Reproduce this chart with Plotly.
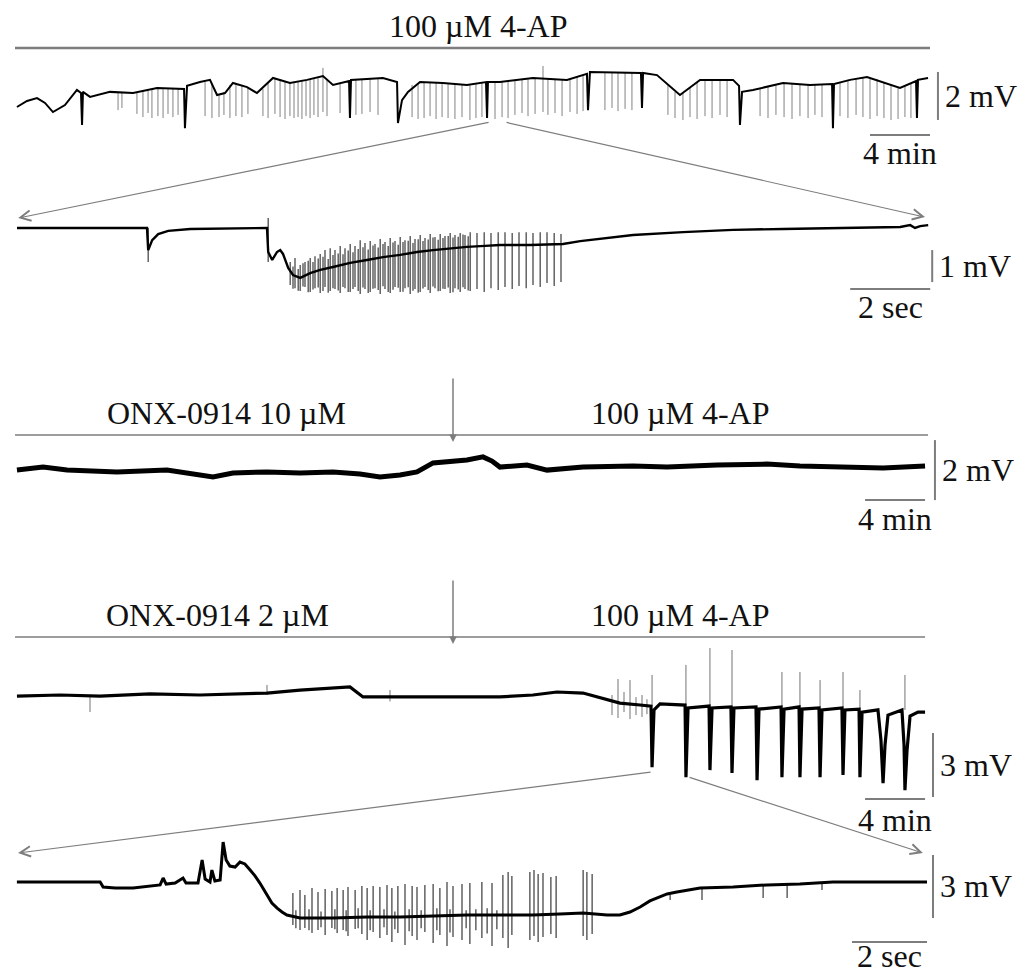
import plotly.graph_objects as go

W, H = 1030, 975

# ======================= DATA =======================
# Trace 1 : 100 uM 4-AP, slow time base (time in min, potential in mV)
T1_T = [0.13, 0.8, 1.47, 2.0, 2.53, 3.33, 4.13, 4.4, 4.47, 4.53,
        5.0, 6.33, 7.87, 9.47, 11.27, 11.33, 11.47, 12.33, 13.0, 13.47,
        14.0, 14.53, 15.47, 16.13, 17.2, 18.33, 19.47, 20.53, 21.2, 22.27,
        22.33, 22.4, 24.53, 25.47, 25.53, 25.8, 26.2, 27.0, 28.53, 30.13,
        31.4, 31.47, 31.53, 32.33, 34.53, 36.8, 38.13, 38.2, 38.33, 40.33,
        41.73, 41.8, 41.87, 42.8, 44.33, 45.67, 47.87, 48.27, 48.33, 48.47,
        49.2, 51.2, 53.0, 54.47, 54.53, 54.6, 55.67, 56.8, 57.87, 59.0,
        60.07, 60.13, 60.2, 60.87]
T1_V = [-0.50, -0.25, -0.13, -0.33, -0.71, -0.42, 0.21, 0.08, -1.25, 0.13,
        -0.08, 0.13, 0.08, 0.29, 0.25, -1.38, 0.38, 0.54, 0.63, 0.0,
        0.08, 0.5, 0.33, 0.08, 0.71, 0.5, 0.63, 0.79, 0.42, 0.58,
        -0.96, 0.63, 0.71, 0.54, -1.17, -0.21, 0.13, 0.54, 0.5, 0.42,
        0.54, -0.96, 0.54, 0.54, 0.71, 0.63, 0.88, -0.63, 0.96, 0.92,
        0.92, -0.54, 0.92, 0.83, 0.0, 0.63, 0.63, 0.38, -1.25, 0.13,
        0.21, 0.5, 0.42, 0.46, -1.38, 0.46, 0.63, 0.75, 0.54, 0.29,
        0.58, -0.96, 0.63, 0.71]
T1_SPK_T = [6.87, 7.13, 8.13, 8.53, 8.87, 9.13, 9.53, 9.87, 10.2, 10.53, 10.87,
            12.67, 13.13, 13.6, 13.93, 14.33, 14.73, 15.13, 15.53,
            16.53, 16.87, 17.33, 17.67, 18.0, 18.33, 18.6, 18.87, 19.13, 19.4, 19.67, 19.93, 20.2, 20.53, 20.8,
            21.67, 22.73, 23.13, 23.67, 24.2,
            26.47, 26.87, 27.27, 27.67, 28.07, 28.47, 28.87, 29.33, 29.8, 30.33, 30.73, 31.13, 32.0, 32.47, 32.87,
            33.33, 33.8, 34.2, 34.67, 35.2, 35.53, 36.0, 36.47, 37.0, 37.47, 37.87,
            39.33, 39.8, 40.2, 40.67, 41.13,
            43.53, 44.0, 44.53, 45.0, 45.47, 46.0, 46.47, 47.0, 47.47,
            49.67, 50.2, 50.73, 51.27, 51.8, 52.33, 52.87, 53.33, 53.8,
            55.0, 55.53, 56.07, 56.53, 57.0, 57.47, 57.93, 58.4, 58.87, 59.33, 59.73]
T1_SPK_TOP = [0.13, 0.13, 0.13, 0.17, 0.17, 0.21, 0.25, 0.25, 0.25, 0.25, 0.25,
              0.54, 0.46, 0.04, 0.13, 0.42, 0.46, 0.42, 0.33,
              0.25, 0.54, 0.71, 0.63, 0.54, 0.5, 0.54, 0.58, 0.63, 0.63, 0.67, 0.71, 0.75, 1.13, 0.63,
              0.5, 0.63, 0.67, 0.67, 0.71,
              0.42, 0.5, 0.54, 0.54, 0.5, 0.5, 0.5, 0.46, 0.42, 0.46, 0.5, 0.54, 0.54, 0.54, 0.58,
              0.63, 0.67, 0.71, 0.71, 1.21, 0.67, 0.63, 0.63, 0.71, 0.75, 0.79,
              0.92, 0.92, 0.92, 0.92, 0.92,
              0.46, 0.13, 0.08, 0.29, 0.54, 0.63, 0.63, 0.63, 0.63,
              0.25, 0.33, 0.42, 0.5, 0.46, 0.46, 0.42, 0.42, 0.42,
              0.54, 0.63, 0.67, 0.71, 0.75, 0.67, 0.54, 0.42, 0.29, 0.38, 0.5]
T1_SPK_BOT = [-0.63, -0.54, -0.79, -0.92, -0.75, -0.96, -0.88, -0.96, -0.79, -0.92, -0.83,
              -0.88, -0.96, -0.92, -0.83, -0.96, -0.88, -0.92, -0.79,
              -0.88, -0.96, -0.79, -0.92, -1.0, -0.88, -0.96, -0.92, -1.0, -0.88, -0.96, -0.83, -0.92, -0.71, -0.88,
              -0.75, -0.83, -0.79, -0.71, -0.83,
              -0.92, -1.0, -0.96, -0.88, -1.0, -0.92, -0.96, -1.0, -0.92, -1.04, -0.96, -0.92, -1.0, -0.92, -0.96,
              -0.83, -0.75, -0.88, -0.79, -0.71, -0.83, -0.75, -0.88, -0.71, -0.79, -0.67,
              -0.63, -0.54, -0.67, -0.58, -0.63,
              -0.83, -0.96, -1.04, -0.92, -1.0, -0.88, -0.96, -0.83, -0.92,
              -0.88, -0.96, -0.83, -0.92, -1.0, -0.88, -0.96, -0.83, -0.92,
              -0.88, -0.96, -0.83, -0.92, -1.0, -0.88, -0.96, -1.04, -1.0, -0.92, -0.96]

# Trace 2 : expanded event from trace 1 (time in s, mV)
T2_T = [0.05, 3.3, 3.33, 3.43, 3.58, 3.83, 4.38, 6.3, 6.33, 6.43,
        6.55, 6.63, 6.7, 6.83, 6.95, 7.13, 7.38, 7.63, 7.95, 8.38,
        8.8, 9.2, 9.63, 10.05, 10.45, 10.88, 11.3, 11.75, 12.13, 12.88,
        13.7, 14.13, 14.63, 15.45, 16.7, 17.95, 19.2, 20.45, 22.13, 22.38,
        22.5, 22.63, 22.83]
T2_V = [0, 0, -0.69, -0.38, -0.19, -0.09, -0.03, 0, -0.75, -1.0,
        -0.75, -0.69, -0.81, -1.25, -1.47, -1.56, -1.41, -1.31, -1.22, -1.09,
        -1.0, -0.91, -0.84, -0.75, -0.69, -0.63, -0.59, -0.56, -0.53, -0.53,
        -0.5, -0.41, -0.34, -0.22, -0.13, -0.06, -0.03, 0, 0.03, 0.09,
        0, 0.06, 0.09]
T2_SPK_T = [3.33, 6.33,
            6.88, 7.0, 7.13, 7.25, 7.38, 7.5, 7.63, 7.75, 7.88, 8.0,
            8.13, 8.25, 8.38, 8.5, 8.63, 8.75, 8.88, 9.0, 9.13, 9.25,
            9.38, 9.5, 9.63, 9.75, 9.88, 10.0, 10.13, 10.25, 10.38, 10.5,
            10.63, 10.75, 10.88, 11.0, 11.13, 11.25, 11.38,
            11.55, 11.73, 11.9, 12.08, 12.25, 12.43, 12.6, 12.78, 12.95, 13.13, 13.3, 13.48, 13.65,
            6.95, 7.08, 7.2, 7.33, 7.45, 7.58, 7.7, 7.83, 7.95, 8.08,
            8.2, 8.33, 8.45, 8.58, 8.7, 8.83, 8.95, 9.08, 9.2, 9.33,
            9.45, 9.58, 9.7, 9.83, 9.95, 10.08, 10.2, 10.33, 10.45, 10.58,
            10.7, 10.83, 10.95, 11.08, 11.2, 11.33]
T2_SPK_TOP = [0, 0.31,
              -1.06, -0.94, -1.16, -1.06, -0.94, -0.88, -0.81, -0.69, -0.63, -0.69,
              -0.56, -0.63, -0.5, -0.56, -0.38, -0.47, -0.41, -0.5, -0.34, -0.44,
              -0.31, -0.41, -0.28, -0.38, -0.25, -0.34, -0.22, -0.31, -0.19, -0.28,
              -0.19, -0.25, -0.16, -0.22, -0.16, -0.22, -0.13,
              -0.16, -0.13, -0.16, -0.13, -0.13, -0.16, -0.13, -0.13, -0.16, -0.13, -0.13, -0.16, -0.19,
              -1.2, -1.28, -1.1, -1.02, -1.06, -0.95, -0.9, -0.97, -0.84, -0.8,
              -0.82, -0.7, -0.76, -0.66, -0.6, -0.67, -0.55, -0.61, -0.5, -0.56,
              -0.45, -0.52, -0.44, -0.4, -0.47, -0.35, -0.41, -0.36, -0.3, -0.37,
              -0.31, -0.25, -0.3, -0.27, -0.2, -0.26]
T2_SPK_BOT = [-1.06, -1.06,
              -1.78, -1.88, -1.97, -1.84, -2.0, -1.88, -2.03, -1.84, -1.97, -1.91,
              -2.03, -1.88, -2.0, -1.84, -2.06, -1.91, -2.0, -1.88, -2.06, -1.91,
              -2.03, -1.84, -2.0, -1.88, -2.06, -1.91, -2.0, -1.84, -2.03, -1.88,
              -1.97, -1.91, -2.03, -1.88, -2.0, -1.91, -1.97,
              -1.91, -2.0, -1.88, -1.94, -1.84, -1.91, -1.81, -1.88, -1.78, -1.84, -1.72, -1.81, -1.69,
              -1.9, -1.96, -1.83, -2.01, -1.92, -1.86, -1.97, -2.02, -1.88, -1.95,
              -1.84, -2.0, -1.91, -1.97, -1.86, -2.03, -1.9, -1.94, -1.82, -2.0,
              -1.93, -1.87, -1.99, -1.85, -1.96, -2.02, -1.89, -1.94, -1.83, -1.98,
              -1.9, -1.86, -2.01, -1.92, -1.85, -1.95]

# Trace 3 : ONX-0914 10 uM then 100 uM 4-AP (min, mV)
T3_T = [0.13, 1.87, 3.47, 6.8, 10.13, 11.47, 13.2, 14.53, 16.8, 19.0,
        21.2, 23.0, 24.33, 25.67, 26.8, 27.87, 29.0, 30.13, 31.2, 31.8,
        32.33, 34.13, 35.47, 37.87, 41.2, 43.47, 46.8, 50.13, 52.33, 54.53,
        57.87, 60.67]
T3_V = [-0.07, 0.03, -0.07, -0.13, -0.07, -0.17, -0.3, -0.17, -0.13, -0.17,
        -0.13, -0.2, -0.3, -0.23, -0.13, 0.17, 0.23, 0.27, 0.37, 0.23,
        0.03, 0.1, -0.07, 0.03, 0.07, 0.03, 0.1, 0.13, 0.07, 0.03,
        0.0, 0.07]
T3_SPK_T = []
T3_SPK_TOP = []
T3_SPK_BOT = []

# Trace 4 : ONX-0914 2 uM then 100 uM 4-AP (min, mV)
T4_T = [0.13, 3.0, 5.67, 9.0, 12.33, 15.0, 16.8, 19.0, 21.2, 22.33,
        23.2, 25.67, 29.0, 32.33, 34.53, 36.13, 37.87, 39.0, 40.33, 41.67,
        42.4, 42.47, 42.6, 43.0, 44.67, 44.73, 44.87, 46.27, 46.33, 46.47,
        47.73, 47.8, 47.93, 49.4, 49.47, 49.6, 51.07, 51.13, 51.27, 52.27,
        52.33, 52.47, 53.6, 53.67, 53.8, 55.13, 55.2, 55.33, 56.27, 56.33,
        56.47, 57.53, 57.73, 57.87, 58.0, 58.2, 59.13, 59.27, 59.33, 59.47,
        59.67, 60.2, 60.67]
T4_V = [-0.05, 0, -0.05, 0.05, 0, 0.05, 0.09, 0.23, 0.33, 0.38,
        -0.09, -0.09, -0.09, -0.09, 0, 0.14, 0.09, -0.14, -0.38, -0.47,
        -0.52, -3.38, -0.7, -0.42, -0.47, -3.85, -0.61, -0.52, -3.52, -0.61,
        -0.56, -3.66, -0.61, -0.56, -3.99, -0.66, -0.56, -3.85, -0.66, -0.56,
        -3.85, -0.66, -0.61, -3.85, -0.7, -0.61, -3.75, -0.7, -0.66, -3.85,
        -0.8, -0.7, -2.11, -4.13, -2.35, -0.94, -0.7, -2.35, -4.46, -2.58,
        -0.99, -0.8, -0.8]
T4_SPK_T = [5.0, 16.8, 25.0, 39.8, 40.2, 40.6, 41.0, 41.4, 41.8, 42.13,
            42.47, 44.73, 46.33, 47.8, 51.13, 52.33, 53.67, 55.2, 56.33, 59.33]
T4_SPK_TOP = [-0.05, 0.47, 0.23, 0.0, 0.75, 0.14, 0.7, -0.1, 0.0, -0.2,
              0.94, 1.41, 2.2, 2.11, 1.08, 1.08, 0.7, 1.08, 0.23, 0.94]
T4_SPK_BOT = [-0.8, 0.0, -0.3, -0.94, -1.08, -0.8, -1.13, -0.94, -1.03, -0.9,
              -0.52, -0.47, -0.52, -0.56, -0.56, -0.56, -0.61, -0.61, -0.66, -0.7]

# Trace 5 : expanded event from trace 4 (s, mV)
T5_T = [0.05, 2.27, 2.35, 2.67, 3.15, 3.6, 3.87, 3.95, 4.03, 4.27,
        4.48, 4.56, 4.88, 4.99, 5.07, 5.2, 5.25, 5.33, 5.47, 5.55,
        5.63, 5.73, 5.87, 6.0, 6.13, 6.27, 6.4, 6.53, 6.72, 6.85,
        6.99, 7.12, 7.25, 7.6, 8.48, 9.39, 10.27, 11.15, 12.05, 12.93,
        13.81, 14.53, 15.15, 15.79, 16.13, 16.4, 16.67, 16.93, 17.12, 17.39,
        17.65, 18.0, 18.27, 19.15, 20.05, 20.93, 21.81, 23.07, 24.32]
T5_V = [0, 0, -0.24, -0.29, -0.29, -0.19, -0.14, 0.19, -0.1, -0.05,
        0.19, -0.05, -0.05, 1.05, 0.14, 0, 0.57, 0.05, 0.1, 1.9,
        1.05, 0.76, 0.71, 0.95, 0.86, 0.57, 0.29, -0.05, -0.62, -1.0,
        -1.24, -1.43, -1.57, -1.71, -1.71, -1.67, -1.67, -1.62, -1.57, -1.57,
        -1.57, -1.52, -1.48, -1.57, -1.57, -1.43, -1.19, -0.9, -0.76, -0.57,
        -0.48, -0.38, -0.29, -0.24, -0.14, -0.1, 0, 0, 0]
T5_SPK_T = [7.41, 7.6, 7.73, 7.92, 8.08, 8.27, 8.45, 8.59, 8.75, 8.88,
            9.07, 9.25, 9.39, 9.55, 9.73, 9.92, 10.05, 10.21, 10.4, 10.59,
            10.72, 10.93, 11.15, 11.33, 11.52, 11.68, 11.92, 12.13, 12.45, 12.72,
            13.01, 13.15, 13.25, 13.73, 13.84, 13.95, 14.08, 14.29, 14.43, 15.15,
            15.25, 15.39, 17.47, 18.32, 19.95, 20.59, 21.52,
            7.49, 7.84, 8.16, 8.53, 8.83, 9.15, 9.47, 9.84, 10.13, 10.51,
            10.83, 11.25, 11.6, 12.03, 12.29, 12.59, 12.85]
T5_SPK_TOP = [-0.52, -0.38, -0.62, -0.29, -0.48, -0.33, -0.43, -0.29, -0.38, -0.24,
              -0.38, -0.19, -0.29, -0.19, -0.24, -0.14, -0.29, -0.19, -0.1, -0.19,
              -0.24, -0.14, -0.1, -0.29, 0, -0.19, -0.1, -0.05, 0, -0.05,
              0.33, 0.48, 0.29, 0.48, 0.57, 0.38, 0.43, 0.24, 0.29, 0.57,
              0.48, 0.38, -0.62, -0.29, -0.14, -0.1, -0.05,
              -1.35, -1.3, -1.4, -1.3, -1.35, -1.25, -1.35, -1.3, -1.4, -1.3,
              -1.35, -1.25, -1.3, -1.35, -1.3, -1.25, -1.35]
T5_SPK_BOT = [-2.05, -2.29, -2.19, -2.43, -2.29, -2.52, -2.19, -2.43, -2.29, -2.57,
              -2.24, -2.48, -2.76, -2.38, -2.67, -2.52, -2.86, -2.43, -3.0, -2.57,
              -2.76, -2.38, -2.9, -2.52, -3.05, -2.62, -2.76, -2.95, -2.67, -3.05,
              -2.67, -3.14, -2.52, -2.76, -2.57, -2.86, -2.62, -2.48, -2.67, -2.57,
              -2.76, -2.48, -0.86, -0.86, -0.76, -0.76, -0.38,
              -2.2, -2.3, -2.15, -2.25, -2.35, -2.2, -2.3, -2.15, -2.25, -2.35,
              -2.2, -2.3, -2.4, -2.2, -2.3, -2.45, -2.25]

# Scale bars (value and label) for each trace
SCALE_V = [2, 1, 2, 3, 3]
SCALE_V_LABEL = ["2 mV", "1 mV", "2 mV", "3 mV", "3 mV"]
SCALE_T = [4, 2, 4, 4, 2]
SCALE_T_LABEL = ["4 min", "2 sec", "4 min", "4 min", "2 sec"]

# Drug application labels
DRUG_TEXT_1 = ["100 µM 4-AP"]
DRUG_TEXT_3 = ["ONX-0914 10 µM", "100 µM 4-AP"]
DRUG_TEXT_4 = ["ONX-0914 2 µM", "100 µM 4-AP"]

# ======================= GEOMETRY / STYLE =======================
# pixel placement of each trace: x0 = px of t=0, sx = px per unit time,
# y0 = px of 0 mV, sy = px per mV, top/bot = vertical band of the subplot
GEOM = [
    dict(x0=15, sx=15.0, y0=95, sy=24.0, top=55, bot=140),
    dict(x0=15, sx=40.0, y0=228, sy=32.0, top=205, bot=300),
    dict(x0=15, sx=15.0, y0=468, sy=30.0, top=445, bot=490),
    dict(x0=15, sx=15.0, y0=695, sy=21.33, top=640, bot=800),
    dict(x0=15, sx=37.5, y0=882, sy=21.0, top=835, bot=955),
]
STYLE = [
    dict(bw=2.0, sc="rgba(90,90,90,0.75)", sw=1.0),
    dict(bw=2.4, sc="rgba(45,45,45,0.8)", sw=1.4),
    dict(bw=5.0, sc="#555", sw=1.0),
    dict(bw=3.2, sc="rgba(80,80,80,0.8)", sw=1.0),
    dict(bw=3.0, sc="rgba(40,40,40,0.85)", sw=1.3),
]
# scale bar anchor (data units): vertical bar x, vertical bar bottom, horizontal bar right end, horizontal bar y
SB_POS = [(61.53, -1.04, 61.0, -1.67), (22.93, -1.69, 22.88, -1.91),
          (61.33, -1.07, 60.67, -1.07), (61.2, -4.78, 60.67, -4.88),
          (24.48, -1.71, 24.32, -2.86)]
SB_LABEL_DY = [18, 18, 19, 21, 14]
# drug bars: (panel, t start, t end, v of bar, label times, labels, arrow time)
DRUG = [(0, 0.0, 61.0, 1.96, [30.87], DRUG_TEXT_1, None),
        (2, 0.0, 60.87, 1.10, [14.07, 44.33], DRUG_TEXT_3, 29.2),
        (3, 0.0, 60.67, 2.72, [13.53, 44.33], DRUG_TEXT_4, 29.2)]
# zoom guide arrows: (src panel, src tails, dst panel, dst heads)
ZOOM = [(0, [(31.67, -1.13), (32.67, -1.13)], 1, [(0.08, 0.31), (22.75, 0.34)]),
        (3, [(42.47, -3.61), (44.87, -3.84)], 4, [(0.08, 1.38), (24.21, 1.38)])]

FONT = dict(family="Liberation Serif, Times New Roman, serif", size=32, color="#111")
GRAY = "#7d7d7d"

PANELS = [
    (T1_T, T1_V, T1_SPK_T, T1_SPK_TOP, T1_SPK_BOT),
    (T2_T, T2_V, T2_SPK_T, T2_SPK_TOP, T2_SPK_BOT),
    (T3_T, T3_V, T3_SPK_T, T3_SPK_TOP, T3_SPK_BOT),
    (T4_T, T4_V, T4_SPK_T, T4_SPK_TOP, T4_SPK_BOT),
    (T5_T, T5_V, T5_SPK_T, T5_SPK_TOP, T5_SPK_BOT),
]
for p in PANELS:
    assert len(p[0]) == len(p[1]), len(p[0])
    assert len(p[2]) == len(p[3]) == len(p[4]), (len(p[2]), len(p[3]), len(p[4]))


def to_px(p, t, v):
    g = GEOM[p]
    return g["x0"] + t * g["sx"], g["y0"] - v * g["sy"]


def to_paper(x, y):
    return x / W, 1 - y / H


fig = go.Figure()
layout = dict(width=W, height=H, margin=dict(l=0, r=0, t=0, b=0),
              paper_bgcolor="white", plot_bgcolor="rgba(0,0,0,0)", showlegend=False)
for i, g in enumerate(GEOM):
    n = "" if i == 0 else str(i + 1)
    layout["xaxis" + n] = dict(domain=[0, 1], range=[-g["x0"] / g["sx"], (W - g["x0"]) / g["sx"]],
                               visible=False, fixedrange=True, anchor="y" + n)
    layout["yaxis" + n] = dict(domain=[1 - g["bot"] / H, 1 - g["top"] / H],
                               range=[(g["y0"] - g["bot"]) / g["sy"], (g["y0"] - g["top"]) / g["sy"]],
                               visible=False, fixedrange=True, anchor="x" + n)

for i, (bt, bv, st, stop, sbot) in enumerate(PANELS):
    n = "" if i == 0 else str(i + 1)
    s = STYLE[i]
    if st:
        xs, ys = [], []
        for t, a, b in zip(st, stop, sbot):
            xs += [t, t, None]
            ys += [a, b, None]
        fig.add_trace(go.Scatter(x=xs, y=ys, mode="lines", line=dict(color=s["sc"], width=s["sw"]),
                                 xaxis="x" + n, yaxis="y" + n, hoverinfo="skip"))
    fig.add_trace(go.Scatter(x=bt, y=bv, mode="lines", line=dict(color="black", width=s["bw"]),
                             xaxis="x" + n, yaxis="y" + n, hoverinfo="skip"))

shapes, anns = [], []


def line_px(x0, y0, x1, y1, color=GRAY, width=2):
    a, b = to_paper(x0, y0)
    c, d = to_paper(x1, y1)
    shapes.append(dict(type="line", xref="paper", yref="paper", x0=a, y0=b, x1=c, y1=d,
                       line=dict(color=color, width=width)))


def text_px(x, y, s, xanchor="center"):
    a, b = to_paper(x, y)
    anns.append(dict(xref="paper", yref="paper", x=a, y=b, text=s, showarrow=False,
                     xanchor=xanchor, yanchor="middle", font=FONT))


def arrow_px(head, tail, style=5, size=1.6, width=1.2, color=GRAY):
    a, b = to_paper(*head)
    anns.append(dict(xref="paper", yref="paper", x=a, y=b, text="", showarrow=True,
                     axref="pixel", ayref="pixel", ax=tail[0] - head[0], ay=tail[1] - head[1],
                     arrowhead=style, arrowsize=size, arrowwidth=width, arrowcolor=color,
                     standoff=0, startstandoff=0))


# scale bars
for i in range(5):
    vx, vb, hr, hy = SB_POS[i]
    x, y0 = to_px(i, vx, vb)
    _, y1 = to_px(i, vx, vb + SCALE_V[i])
    line_px(x, y0, x, y1, width=2)
    text_px(x + 5, (y0 + y1) / 2, SCALE_V_LABEL[i], xanchor="left")
    xr, yh = to_px(i, hr, hy)
    xl, _ = to_px(i, hr - SCALE_T[i], hy)
    line_px(xl, yh, xr, yh, width=2)
    text_px((xl + xr) / 2, yh + SB_LABEL_DY[i], SCALE_T_LABEL[i])

# drug bars
for p, t0, t1, v, lt, labels, at in DRUG:
    xa, y = to_px(p, t0, v)
    xb, _ = to_px(p, t1, v)
    line_px(xa, y, xb, y, width=2.4 if p == 0 else 1.6)
    for t, s in zip(lt, labels):
        x, _ = to_px(p, t, v)
        text_px(x, y - 22, s)
    if at is not None:
        x, _ = to_px(p, at, v)
        arrow_px((x, y + 7), (x, y - 58), style=2, size=1.0, width=1.5)

# zoom guide arrows
for sp, tails, dp, heads in ZOOM:
    for (tt, tv), (ht, hv) in zip(tails, heads):
        arrow_px(to_px(dp, ht, hv), to_px(sp, tt, tv), style=5, size=1.7, width=1.2)

layout["shapes"] = shapes
layout["annotations"] = anns
fig.update_layout(**layout)

fig.write_html("out.html", config={"displayModeBar": False},
               post_script="document.body.style.margin='0';document.body.style.overflow='hidden';")
